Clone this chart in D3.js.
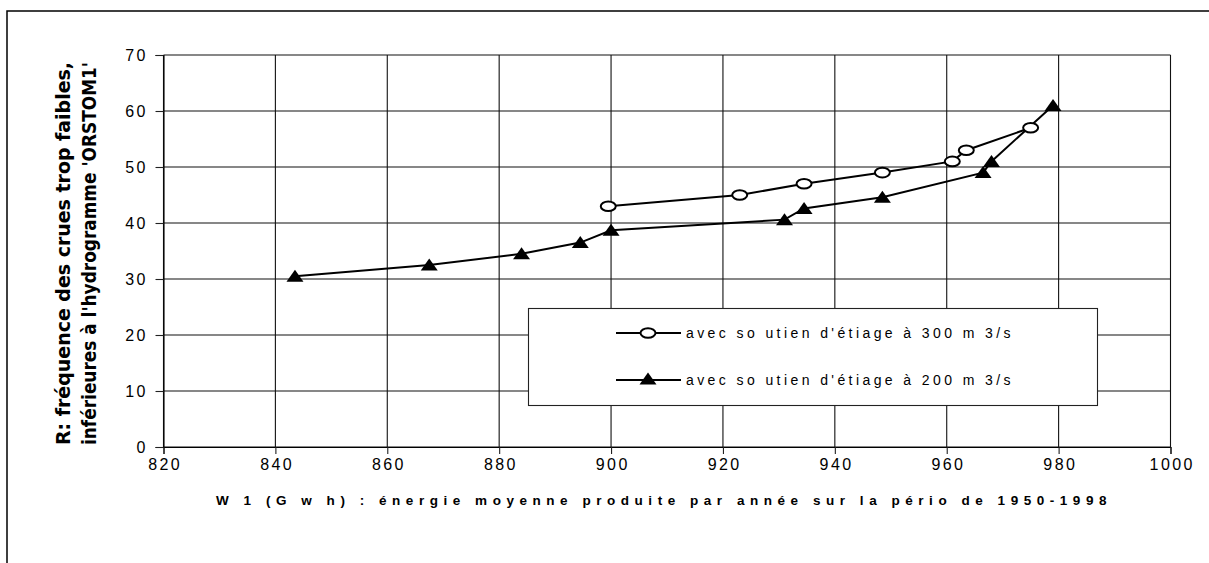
<!DOCTYPE html>
<html>
<head>
<meta charset="utf-8">
<script src="https://cdn.jsdelivr.net/npm/d3@7/dist/d3.min.js"></script>
<style>
  html, body { margin: 0; padding: 0; background: #fff; }
  svg { display: block; }
</style>
</head>
<body>
<svg id="chart" width="1209" height="563"></svg>
<script>
// W1 (GWh) and R (%) for the two low-water support scenarios
const w1Soutien300 = [899.5, 923, 934.5, 948.5, 961, 963.5, 975];
const rSoutien300  = [43, 45, 47, 49, 51, 53, 57];

const w1Soutien200 = [843.5, 867.5, 884, 894.5, 900, 931, 934.5, 948.5, 966.5, 968, 979];
const rSoutien200  = [30.5, 32.5, 34.5, 36.5, 38.7, 40.6, 42.6, 44.6, 49, 51, 61];

const xTicks = [820, 840, 860, 880, 900, 920, 940, 960, 980, 1000];
const yTicks = [0, 10, 20, 30, 40, 50, 60, 70];

const seriesLabels = [
  "avec so utien d'étiage à 300 m 3/s",
  "avec so utien d'étiage à 200 m 3/s"
];
const xTitle = "W 1 (G w h) : énergie moyenne produite par année sur la pério de 1950-1998";
const yTitleLines = [
  "R: fréquence des crues trop faibles,",
  "inférieures à l'hydrogramme 'ORSTOM1'"
];

const svg = d3.select("#chart");
const font = "'Liberation Sans', Arial, sans-serif";

// spread a text's letters so that it spans the given width
function spreadTo(sel, width) {
  sel.each(function () {
    const n = this.textContent.length;
    const natural = this.getComputedTextLength();
    d3.select(this).style("letter-spacing", ((width - natural) / n) + "px");
  });
}

// outer frame of the chart area
svg.append("rect")
  .attr("x", 7).attr("y", 11)
  .attr("width", 1215).attr("height", 570)
  .attr("fill", "#fff").attr("stroke", "#000").attr("stroke-width", 1.5);

const x = d3.scaleLinear().domain([820, 1000]).range([163.5, 1170.5]);
const y = d3.scaleLinear().domain([0, 70]).range([447, 55]);

// grid
const grid = svg.append("g");
grid.selectAll("line.h").data(yTicks).join("line")
  .attr("x1", x(820)).attr("x2", x(1000))
  .attr("y1", d => y(d)).attr("y2", d => y(d))
  .attr("stroke", "#111").attr("stroke-width", 1.1);
grid.selectAll("line.v").data(xTicks).join("line")
  .attr("y1", y(0)).attr("y2", y(70))
  .attr("x1", d => x(d)).attr("x2", d => x(d))
  .attr("stroke", "#111").attr("stroke-width", 1.1);

// axes
const xAxis = d3.axisBottom(x).tickValues(xTicks).tickSize(7).tickPadding(5).tickFormat(d3.format("d"));
const yAxis = d3.axisLeft(y).tickValues(yTicks).tickSize(8).tickPadding(10).tickFormat(d3.format("d"));

const gx = svg.append("g").attr("transform", `translate(0,${y(0)})`).call(xAxis);
const gy = svg.append("g").attr("transform", `translate(${x(820)},0)`).call(yAxis);
[gx, gy].forEach(g => {
  g.select(".domain").attr("stroke", "#000").attr("stroke-width", 1.1);
  g.selectAll(".tick line").attr("stroke", "#222").attr("stroke-width", 1.1);
  g.selectAll(".tick text")
    .attr("fill", "#000")
    .style("font-family", font)
    .style("font-size", "16px")
    .style("letter-spacing", "2.4px");
});
gx.selectAll(".tick text").attr("dx", "1.2px");
gy.selectAll(".tick text").attr("dx", "2.4px");

// axis titles
svg.append("text")
  .attr("x", 216).attr("y", 505)
  .style("font-family", font).style("font-size", "13.5px").style("font-weight", "bold")
  .text(xTitle)
  .call(spreadTo, 896);

const yTitle = svg.append("g");
const yTitleBase = [70, 96];
yTitleLines.forEach((t, i) => {
  yTitle.append("text")
    .attr("transform", `translate(${yTitleBase[i]},445) rotate(-90)`)
    .attr("x", 0).attr("y", 0)
    .attr("textLength", 383).attr("lengthAdjust", "spacingAndGlyphs")
    .style("font-family", "'DejaVu Sans Condensed', 'Liberation Sans Narrow', 'Liberation Sans', sans-serif")
    .style("font-size", "19px").style("font-weight", "bold")
    .text(t);
});

// series
const s300 = w1Soutien300.map((v, i) => [v, rSoutien300[i]]);
const s200 = w1Soutien200.map((v, i) => [v, rSoutien200[i]]);
const line = d3.line().x(d => x(d[0])).y(d => y(d[1]));

const triangle = (cx, cy) => `M${cx},${cy - 6.5}L${cx + 8.5},${cy + 5.5}L${cx - 8.5},${cy + 5.5}Z`;

svg.append("path").datum(s200).attr("d", line)
  .attr("fill", "none").attr("stroke", "#000").attr("stroke-width", 2);
svg.append("path").datum(s300).attr("d", line)
  .attr("fill", "none").attr("stroke", "#000").attr("stroke-width", 2);

svg.append("g").selectAll("path").data(s200).join("path")
  .attr("d", d => triangle(x(d[0]), y(d[1])))
  .attr("fill", "#000");
svg.append("g").selectAll("ellipse").data(s300).join("ellipse")
  .attr("cx", d => x(d[0])).attr("cy", d => y(d[1]))
  .attr("rx", 7.5).attr("ry", 4.8)
  .attr("fill", "#fff").attr("stroke", "#000").attr("stroke-width", 2);

// legend
const legend = svg.append("g");
legend.append("rect")
  .attr("x", 528.5).attr("y", 308.5).attr("width", 569).attr("height", 97)
  .attr("fill", "#fff").attr("stroke", "#222").attr("stroke-width", 1.1);

const rows = [333, 380];
rows.forEach((ry, i) => {
  legend.append("line")
    .attr("x1", 616).attr("x2", 681).attr("y1", ry).attr("y2", ry)
    .attr("stroke", "#000").attr("stroke-width", 2);
  if (i === 0) {
    legend.append("ellipse")
      .attr("cx", 648).attr("cy", ry).attr("rx", 7.5).attr("ry", 4.8)
      .attr("fill", "#fff").attr("stroke", "#000").attr("stroke-width", 2);
  } else {
    legend.append("path").attr("d", triangle(648, ry - 1)).attr("fill", "#000");
  }
  legend.append("text")
    .attr("x", 686).attr("y", ry + 5)
    .style("font-family", font).style("font-size", "14px")
    .text(seriesLabels[i])
    .call(spreadTo, 328);
});
</script>
</body>
</html>
